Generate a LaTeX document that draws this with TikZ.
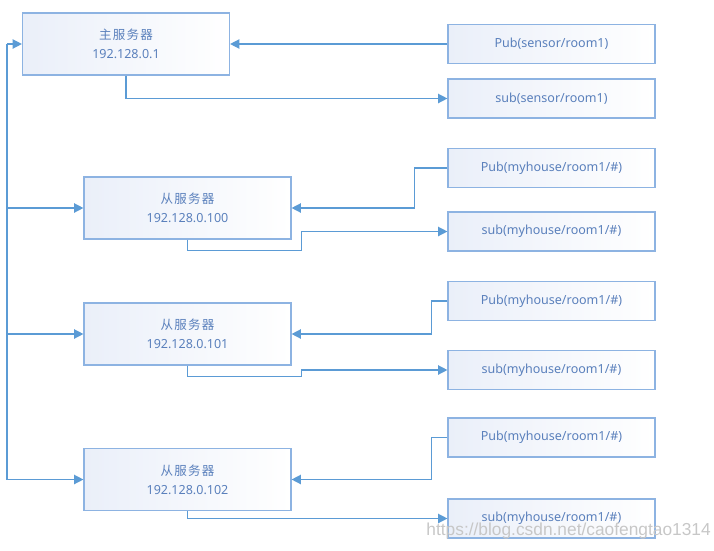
\documentclass[tikz,border=0pt]{standalone}
\usepackage{fontspec}
\setmainfont{Noto Sans}
\newfontfamily\cjk[LetterSpace=10]{Noto Sans CJK SC}
\newfontfamily\wmfont{Liberation Sans}
\usetikzlibrary{arrows.meta}
\definecolor{ln}{HTML}{5B9BD5}
\definecolor{bd}{HTML}{8DB3E2}
\definecolor{tx}{HTML}{5A80BC}
\definecolor{fl}{HTML}{EAEFF9}
\tikzset{
  basebox/.style={draw=bd, line width=1.1pt, left color=fl, right color=white,
    text=tx, font=\fontsize{9.4}{14}\selectfont, align=center, inner sep=0pt,
    minimum width=155pt},
  srvbox/.style={basebox, minimum height=46.5pt},
  topbox/.style={basebox, minimum height=29.5pt},
  conn/.style={draw=ln, line width=1pt},
  arr/.style={conn, -{Triangle[length=7pt,width=7pt]}},
}
\begin{document}
\begin{tikzpicture}[x=0.75pt,y=-0.75pt]
\useasboundingbox (0,0) rectangle (714,550);
% servers
\node[srvbox] (M)  at (126,44)    {{\cjk 主服务器}\\192.128.0.1};
\node[srvbox] (A1) at (187.5,208) {{\cjk 从服务器}\\192.128.0.100};
\node[srvbox] (A2) at (187.5,334) {{\cjk 从服务器}\\192.128.0.101};
\node[srvbox] (A3) at (187.5,479.5) {{\cjk 从服务器}\\192.128.0.102};
% topics
\node[topbox] (P0) at (551.5,44)    {Pub(sensor/room1)};
\node[topbox] (S0) at (551.5,98.5)  {sub(sensor/room1)};
\node[topbox] (P1) at (551.5,168)   {Pub(myhouse/room1/\#)};
\node[topbox] (S1) at (551.5,231.5) {sub(myhouse/room1/\#)};
\node[topbox] (P2) at (551.5,301)   {Pub(myhouse/room1/\#)};
\node[topbox] (S2) at (551.5,370)   {sub(myhouse/room1/\#)};
\node[topbox] (P3) at (551.5,437.5) {Pub(myhouse/room1/\#)};
\node[topbox] (S3) at (551.5,518.5) {sub(myhouse/room1/\#)};
% trunk
\coordinate (t0) at (7,44);
\draw[conn] (t0) -- (t0 |- A3.west);
\draw[arr] (t0) -- (M.west);
\draw[arr] (t0 |- A1.west) -- (A1.west);
\draw[arr] (t0 |- A2.west) -- (A2.west);
\draw[arr] (t0 |- A3.west) -- (A3.west);
% main
\draw[arr] (P0.west) -- (M.east);
\draw[arr] (M.south) |- (S0.west);
% slave 1
\draw[arr] (P1.west) -- ++(-33,0) |- (A1.east);
\draw[arr] (A1.south) -- ++(0,11) -- ++(114,0) |- (S1.west);
% slave 2
\draw[arr] (P2.west) -- ++(-16,0) |- (A2.east);
\draw[arr] (A2.south) -- ++(0,11) -- ++(114,0) |- (S2.west);
% slave 3
\draw[arr] (P3.west) -- ++(-16,0) |- (A3.east);
\draw[arr] (A3.south) |- (S3.west);
% watermark
\node[text=black!22, font=\wmfont\fontsize{13}{13}\selectfont, anchor=east, inner sep=0pt] (wm) at (711,531) {https://blog.csdn.net/caofengtao1314};
\end{tikzpicture}
\end{document}
